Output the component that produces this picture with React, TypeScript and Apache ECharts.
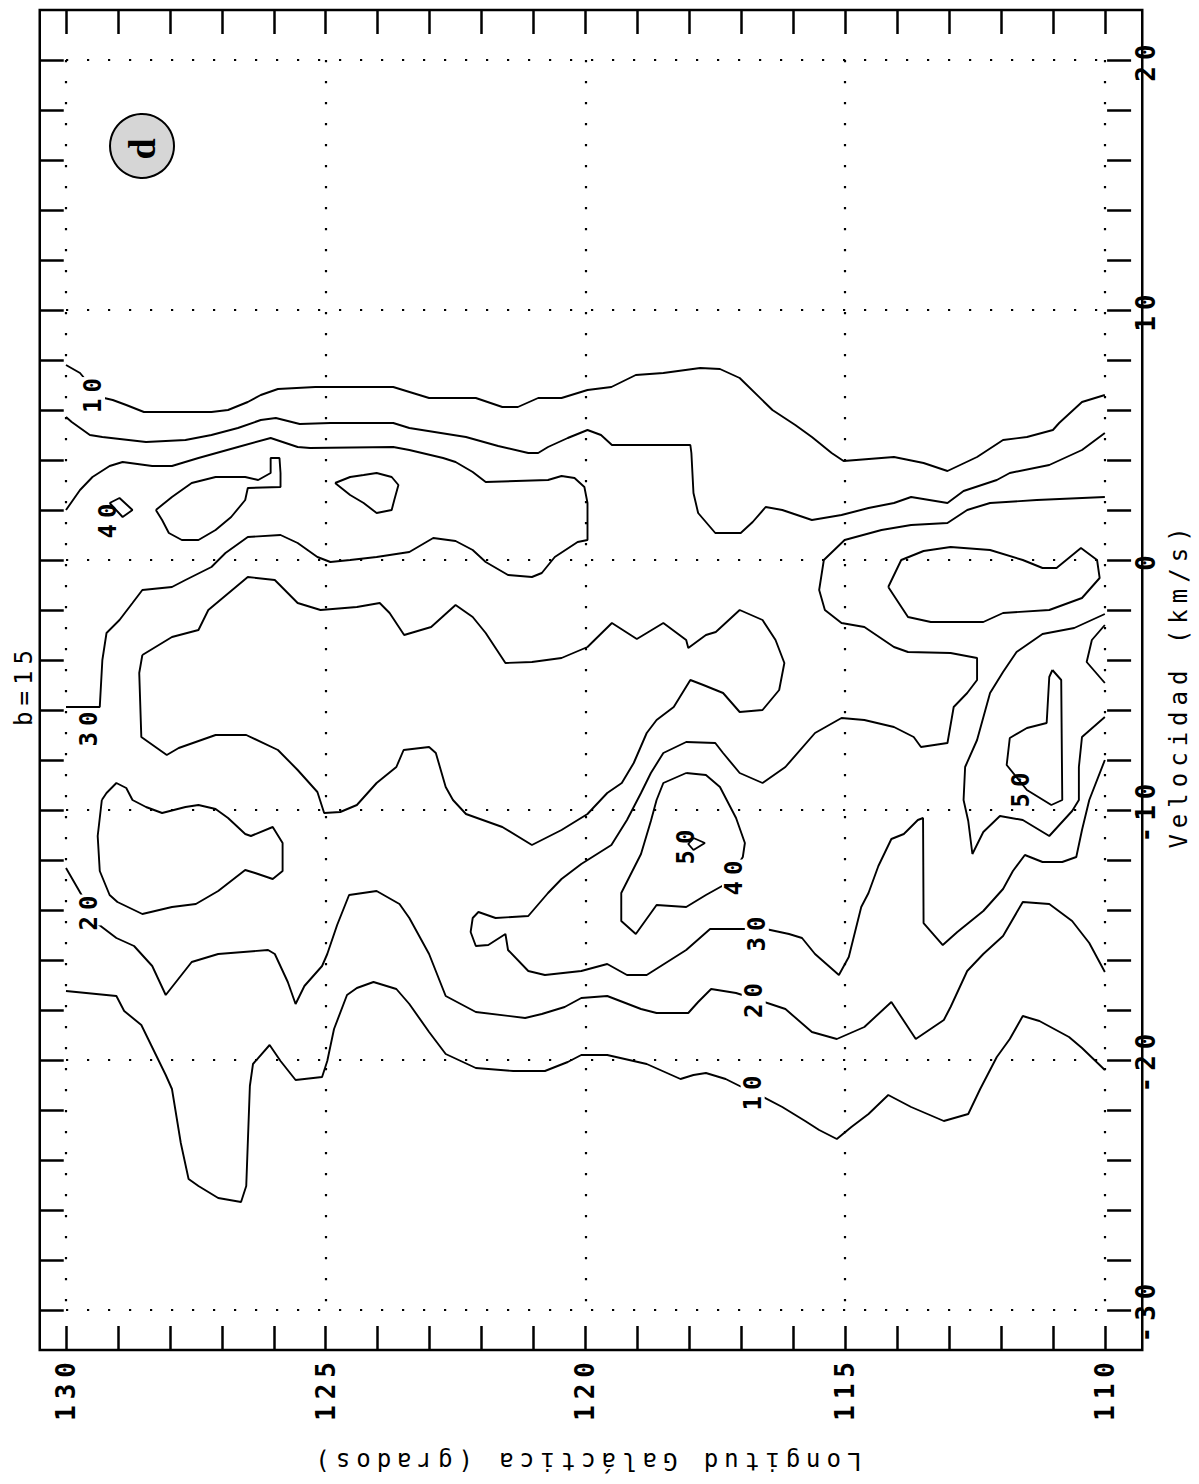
import React, { useEffect, useRef } from 'react';
import * as echarts from 'echarts';

// ---- axis labels ----
const LON_LABELS = [110, 115, 120, 125, 130];
const VEL_LABELS = [-30, -20, -10, 0, 10, 20];

// ---- contour lines: [longitude (deg), velocity (km/s)] ----
const contour10Upper = [[130,7.8],[129.73,7.48],[129.35,6.52],[129.1,6.4],[128.84,6.2],[128.5,5.92],[127.2,5.92],[126.88,6.0],[126.5,6.32],[126.25,6.6],[125.92,6.84],[125.2,6.92],[123.7,6.92],[123.01,6.48],[122.11,6.48],[121.6,6.12],[121.3,6.12],[120.91,6.48],[120.46,6.48],[119.96,6.8],[119.5,6.92],[119.03,7.4],[118.5,7.48],[117.79,7.68],[117.41,7.64],[117.03,7.28],[116.4,6.0],[115.96,5.4],[115.64,4.92],[115.26,4.28],[115.03,3.96],[114.06,4.12],[113.49,3.88],[113.03,3.56],[112.46,4.12],[111.96,4.8],[111.5,4.92],[111.0,5.2],[110.88,5.48],[110.44,6.32],[110,6.6]];
const contour20Upper = [[130,5.72],[129.89,5.52],[129.54,5.0],[129.3,4.92],[128.46,4.72],[127.7,4.8],[127.2,5.0],[126.69,5.28],[126.25,5.6],[125.96,5.68],[125.5,5.44],[124.91,5.48],[123.7,5.48],[123.39,5.28],[122.3,4.92],[121.68,4.56],[121.1,4.28],[120.91,4.28],[120.72,4.52],[120.34,4.88],[119.96,5.2],[119.7,5.0],[119.49,4.6],[117.98,4.6],[117.96,4.28],[117.92,2.68],[117.83,1.88],[117.5,1.08],[117.01,1.08],[116.78,1.52],[116.53,2.12],[116.21,2.0],[115.64,1.6],[115.07,1.8],[114.55,2.08],[114.06,2.28],[113.73,2.52],[113.03,2.28],[112.72,2.76],[112.08,3.2],[111.83,3.48],[111.07,3.8],[110.44,4.4],[110,5.08]];
const contour30Left = [[130,2.0],[129.73,2.8],[129.49,3.32],[129.16,3.76],[128.91,3.92],[128.34,3.76],[127.96,3.76],[127.45,4.08],[126.69,4.52],[126.06,4.88],[125.54,4.52],[125.3,4.48],[123.7,4.52],[123.39,4.4],[122.74,4.08],[122.5,3.92],[122.17,3.52],[121.92,3.12],[120.72,3.2],[120.46,3.36],[120.21,3.28],[120.02,2.92],[119.96,2.28],[119.96,0.8],[120.15,0.72],[120.59,0.12],[120.84,-0.52],[121.03,-0.68],[121.49,-0.6],[121.92,-0.08],[122.17,0.4],[122.5,0.76],[122.93,0.88],[123.39,0.32],[124.02,0.12],[124.53,0.0],[124.91,-0.08],[125.16,0.12],[125.54,0.68],[125.87,1.0],[126.5,0.92],[126.93,0.28],[127.2,-0.28],[127.7,-0.8],[127.96,-1.08],[128.53,-1.2],[128.72,-1.72],[128.97,-2.4],[129.22,-2.92],[129.3,-4.0],[129.35,-5.88],[130,-5.88]];
const contour40IslandA = [[129.16,2.28],[128.97,2.48],[128.72,2.0],[128.91,1.72],[129.16,2.28]];
const contour40IslandB = [[128.27,2.0],[127.96,2.52],[127.58,3.08],[127.12,3.32],[126.55,3.32],[126.3,3.2],[126.06,3.48],[126.06,4.08],[125.89,4.08],[125.87,3.48],[125.87,2.92],[126.5,2.88],[126.55,2.4],[126.82,1.72],[127.12,1.2],[127.45,0.8],[127.77,0.8],[128.02,1.08],[128.15,1.6],[128.27,2.0]];
const contour40IslandC = [[124.82,3.08],[124.53,3.32],[124.27,3.4],[124.02,3.48],[123.73,3.32],[123.6,3.0],[123.68,2.4],[123.73,2.0],[124.02,1.88],[124.27,2.28],[124.53,2.6],[124.82,3.08]];
const loopMiddle = [[128.53,-3.8],[127.96,-3.08],[127.45,-2.8],[127.26,-2.0],[126.5,-0.68],[125.98,-0.8],[125.54,-1.72],[125.1,-2.0],[124.4,-1.88],[123.96,-1.72],[123.77,-2.12],[123.49,-3.0],[122.97,-2.68],[122.5,-1.8],[122.17,-2.28],[121.92,-2.92],[121.54,-4.12],[121.03,-4.08],[120.46,-3.92],[119.96,-3.48],[119.49,-2.52],[119.01,-3.16],[118.5,-2.52],[118.06,-3.2],[118.02,-3.52],[117.68,-3.0],[117.49,-2.88],[117.03,-2.0],[116.59,-2.4],[116.34,-3.2],[116.17,-4.12],[116.27,-5.2],[116.59,-6.0],[117.03,-6.08],[117.35,-5.32],[117.73,-5.0],[117.98,-4.8],[118.3,-5.88],[118.63,-6.4],[118.82,-6.92],[119.07,-8.12],[119.3,-8.92],[119.58,-9.32],[119.96,-10.16],[120.46,-10.8],[121.03,-11.4],[121.6,-10.68],[122.3,-10.16],[122.55,-9.6],[122.69,-9.08],[122.88,-7.72],[123.01,-7.48],[123.5,-7.6],[123.64,-8.28],[124.02,-8.92],[124.4,-9.8],[124.72,-10.08],[125.03,-10.12],[125.16,-9.28],[125.54,-8.4],[125.92,-7.6],[126.53,-7.0],[127.12,-7.0],[127.83,-7.52],[128.06,-7.8],[128.55,-7.08],[128.59,-4.52],[128.53,-3.8]];
const loopPear = [[129.31,-9.6],[129.39,-11.04],[129.35,-12.44],[129.16,-13.4],[129.01,-13.68],[128.53,-14.16],[127.96,-13.88],[127.5,-13.76],[127.07,-13.24],[126.55,-12.4],[126.36,-12.52],[126.02,-12.76],[125.83,-12.44],[125.83,-11.32],[126.02,-10.68],[126.44,-11.04],[126.55,-10.96],[126.88,-10.32],[127.12,-9.96],[127.45,-9.8],[127.7,-9.88],[128.15,-10.12],[128.46,-9.88],[128.72,-9.6],[128.84,-9.12],[129.03,-8.92],[129.22,-9.32],[129.31,-9.6]];
const contour30Right = [[110,2.52],[111.31,2.4],[112.21,2.28],[112.65,2.0],[113.03,1.48],[113.73,1.4],[114.3,1.2],[115.01,0.8],[115.41,0.0],[115.5,-1.2],[115.39,-2.0],[115.07,-2.52],[114.63,-2.68],[114.06,-3.48],[113.79,-3.68],[112.97,-3.72],[112.46,-3.92],[112.46,-4.8],[112.65,-5.32],[112.91,-5.88],[113.03,-7.32],[113.54,-7.48],[113.68,-7.08],[114.06,-6.68],[114.63,-6.4],[115.07,-6.32],[115.58,-6.92],[116.15,-8.28],[116.59,-8.92],[117.03,-8.52],[117.35,-7.72],[117.5,-7.32],[118.06,-7.28],[118.5,-7.72],[118.74,-8.52],[118.93,-9.32],[119.2,-10.4],[119.5,-11.4],[120.08,-12.16],[120.46,-12.76],[120.72,-13.32],[121.1,-14.24],[121.73,-14.32],[122.06,-14.08],[122.17,-14.32],[122.21,-14.88],[122.11,-15.44],[121.87,-15.4],[121.54,-14.96],[121.49,-15.6],[121.1,-16.44],[120.78,-16.6],[120.08,-16.44],[119.58,-16.16],[119.2,-16.6],[118.82,-16.6],[118.06,-15.6],[117.6,-14.76],[116.53,-14.76],[116.08,-14.96],[115.83,-15.12],[115.58,-15.76],[115.12,-16.6],[114.93,-15.88],[114.69,-13.88],[114.55,-13.32],[114.36,-12.24],[114.11,-11.16],[113.87,-10.96],[113.6,-10.4],[113.5,-10.32],[113.49,-14.52],[113.12,-15.4],[112.84,-14.88],[112.34,-14.04],[111.96,-13.16],[111.77,-12.44],[111.54,-11.8],[111.2,-12.08],[110.82,-12.08],[110.55,-11.88],[110.44,-10.8],[110.3,-9.6],[110,-8.0]];
const contour40Center = [[118.06,-8.52],[117.68,-8.6],[117.41,-9.08],[117.1,-10.32],[116.93,-11.32],[116.97,-11.88],[117.3,-12.96],[117.68,-13.4],[118.06,-13.88],[118.63,-13.8],[119.03,-14.96],[119.31,-14.44],[119.31,-13.32],[118.93,-11.76],[118.74,-10.44],[118.63,-9.6],[118.5,-8.92],[118.06,-8.52]];
const contour50Center = [[117.92,-11.12],[117.7,-11.32],[117.92,-11.6],[118.02,-11.36],[117.92,-11.12]];
const loopZero = [[114.17,-1.08],[113.92,0.0],[113.49,0.36],[112.97,0.52],[112.21,0.4],[111.58,0.0],[111.2,-0.32],[110.93,-0.32],[110.46,0.48],[110.15,0.0],[110.1,-0.72],[110.44,-1.52],[111.07,-2.0],[111.96,-2.12],[112.34,-2.48],[113.35,-2.48],[113.79,-2.28],[114.17,-1.08]];
const contour40Right = [[110,-2.16],[110.59,-2.72],[111.2,-2.96],[111.7,-3.68],[111.96,-4.48],[112.21,-5.32],[112.46,-7.2],[112.69,-8.28],[112.72,-9.6],[112.63,-10.44],[112.55,-11.76],[112.34,-10.88],[112.02,-10.24],[111.58,-10.4],[111.07,-11.04],[110.63,-10.04],[110.5,-9.6],[110.5,-8.28],[110.44,-7.08],[110,-6.28]];
const contourEdge = [[110,-2.6],[110.25,-3.2],[110.35,-4.08],[110,-4.92]];
const contour50Right = [[111.01,-4.4],[110.84,-4.8],[110.82,-9.6],[111.03,-9.8],[111.5,-9.2],[111.89,-8.2],[111.83,-7.12],[111.5,-6.72],[111.12,-6.52],[111.07,-4.68],[111.01,-4.4]];
const contour20Lower = [[130,-12.32],[129.7,-13.4],[129.41,-14.52],[129.03,-15.12],[128.69,-15.44],[128.34,-16.24],[128.08,-17.4],[127.58,-16.08],[127.07,-15.76],[126.11,-15.6],[125.98,-15.76],[125.73,-16.88],[125.58,-17.76],[125.41,-17.04],[125.07,-16.24],[124.97,-15.76],[124.78,-14.6],[124.55,-13.4],[124.02,-13.24],[123.58,-13.76],[123.39,-14.32],[123.01,-15.76],[122.69,-17.44],[122.11,-18.08],[121.16,-18.32],[120.84,-18.16],[120.4,-17.88],[120.08,-17.52],[119.58,-17.44],[118.93,-17.96],[118.63,-18.12],[118.02,-18.12],[117.83,-17.68],[117.58,-17.16],[117.1,-17.32],[116.44,-17.76],[116.15,-17.96],[115.64,-18.88],[115.16,-19.16],[114.63,-18.68],[114.11,-17.68],[113.64,-19.16],[113.1,-18.4],[112.97,-17.88],[112.65,-16.44],[112.34,-15.76],[111.96,-15.04],[111.58,-13.68],[111.07,-13.76],[110.63,-14.44],[110.3,-15.32],[110,-16.48]];
const contour10Lower = [[130,-17.24],[129.03,-17.44],[128.88,-18.04],[128.55,-18.6],[128.08,-20.6],[127.96,-21.16],[127.79,-23.32],[127.64,-24.76],[127.45,-25.04],[127.07,-25.52],[126.63,-25.68],[126.53,-25.04],[126.46,-21.04],[126.4,-20.16],[126.08,-19.4],[125.87,-20.04],[125.58,-20.8],[125.07,-20.68],[124.97,-20.04],[124.84,-18.76],[124.59,-17.4],[124.4,-17.12],[124.08,-16.88],[123.64,-17.16],[123.39,-17.76],[123.01,-18.88],[122.69,-19.76],[122.11,-20.32],[121.39,-20.44],[120.78,-20.44],[120.34,-20.08],[120.08,-19.8],[119.58,-19.8],[118.82,-20.16],[118.17,-20.76],[117.92,-20.6],[117.68,-20.52],[117.3,-20.76],[117.03,-21.04],[116.65,-21.4],[116.21,-21.88],[115.77,-22.44],[115.5,-22.8],[115.16,-23.16],[114.88,-22.68],[114.55,-22.16],[114.17,-21.4],[113.73,-21.88],[113.1,-22.44],[112.63,-22.16],[112.4,-21.16],[112.08,-19.88],[111.83,-19.16],[111.58,-18.24],[111.26,-18.44],[110.69,-19.08],[110.44,-19.52],[110,-20.4]];

const CONTOURS = [contour10Upper, contour20Upper, contour30Left, contour40IslandA, contour40IslandB, contour40IslandC, loopMiddle, loopPear, contour30Right, contour40Center, contour50Center, loopZero, contour40Right, contourEdge, contour50Right, contour20Lower, contour10Lower];

// ---- contour level labels ----
const LABEL_TEXT = ['10', '40', '30', '20', '50', '40', '30', '20', '10', '50'];
const LABEL_LON = [129.48, 129.2, 129.56, 129.56, 118.06, 117.14, 116.7, 116.76, 116.78, 111.62];
const LABEL_VEL = [6.7, 1.68, -6.64, -14.0, -11.36, -12.6, -14.84, -17.5, -21.2, -9.08];
const LABEL_MASK = [true, false, true, true, false, true, true, true, true, false];

const FONT = '"DejaVu Sans Mono", monospace';

export default function App() {
  const ref = useRef<HTMLDivElement>(null);
  useEffect(() => {
    if (!ref.current) return;
    const chart = echarts.init(ref.current, null, { renderer: 'svg' });
    const tickStyle = { color: '#000', width: 2.5 };
    const dotted = { color: '#000', width: 2.2, type: [2.2, 18.8] as any };
    const lineSeries = CONTOURS.map((d) => ({
      type: 'line',
      xAxisIndex: 0,
      yAxisIndex: 0,
      data: d,
      symbol: 'none',
      showSymbol: false,
      silent: true,
      lineStyle: { color: '#000', width: 1.9 },
      z: 3,
    }));
    const labelSeries = {
      type: 'scatter',
      xAxisIndex: 0,
      yAxisIndex: 0,
      symbolSize: 1,
      silent: true,
      itemStyle: { color: '#ffffff', opacity: 1 },
      z: 6,
      data: LABEL_TEXT.map((t, i) => ({
        value: [LABEL_LON[i], LABEL_VEL[i]],
        name: t,
        label: {
          show: true,
          position: 'inside',
          rotate: 90,
          formatter: t,
          fontSize: 24,
          fontWeight: 'bold',
          fontFamily: FONT,
          color: '#000000',
          opacity: 1,
          textBorderWidth: 0,
          backgroundColor: LABEL_MASK[i] ? '#fff' : 'transparent',
          padding: [0, 1],
        },
      })),
    };
    const option: any = {
      animation: false,
      backgroundColor: '#fff',
      grid: [
        { left: 66, top: 60, width: 1050, height: 1250, show: false },
        { left: 39.75, top: 10, width: 1102.5, height: 1340, show: true, borderColor: '#000', borderWidth: 2.5, backgroundColor: 'transparent' },
      ],
      xAxis: [
        {
          type: 'value', gridIndex: 0, min: 110, max: 130, interval: 1, inverse: true,
          position: 'bottom', offset: 40,
          axisLine: { show: false, onZero: false },
          axisTick: { show: true, inside: true, length: 24, lineStyle: tickStyle },
          axisLabel: {
            show: true, rotate: 90, margin: 6, color: '#000', fontSize: 26, fontWeight: 'bold', fontFamily: FONT,
            formatter: (v: number) => (LON_LABELS.includes(Math.round(v)) && Math.abs(v - Math.round(v)) < 1e-6 ? String(Math.round(v)) : ''),
          },
          splitLine: { show: false },
          name: 'Longitud Galáctica (grados)', nameLocation: 'middle', nameRotate: 180, nameGap: 99,
          nameTextStyle: { fontSize: 24, fontFamily: FONT, color: '#000' },
        },
        {
          type: 'value', gridIndex: 0, min: 110, max: 130, interval: 1, inverse: true,
          position: 'top', offset: 50,
          axisLine: { show: false, onZero: false },
          axisTick: { show: true, inside: true, length: 24, lineStyle: tickStyle },
          axisLabel: { show: false },
          splitLine: { show: false },
        },
        {
          type: 'value', gridIndex: 0, min: 110, max: 130, interval: 5, inverse: true,
          position: 'bottom',
          axisLine: { show: false, onZero: false },
          axisTick: { show: false },
          axisLabel: { show: false },
          splitLine: { show: true, lineStyle: dotted },
        },
        { type: 'value', gridIndex: 1, min: 0, max: 1, show: false, axisLine: { onZero: false } },
      ],
      yAxis: [
        {
          type: 'value', gridIndex: 0, min: -30, max: 20, interval: 2,
          position: 'right', offset: 26.25,
          axisLine: { show: false, onZero: false },
          axisTick: { show: true, inside: true, length: 24, lineStyle: tickStyle },
          axisLabel: {
            show: true, rotate: 90, margin: 2, color: '#000', fontSize: 26, fontWeight: 'bold', fontFamily: FONT,
            formatter: (v: number) => (VEL_LABELS.includes(Math.round(v)) && Math.abs(v - Math.round(v)) < 1e-6 ? String(Math.round(v)) : ''),
          },
          splitLine: { show: false },
          name: 'Velocidad (km/s)', nameLocation: 'middle', nameRotate: 90, nameGap: 15,
          nameTextStyle: { fontSize: 24, fontFamily: FONT, color: '#000' },
        },
        {
          type: 'value', gridIndex: 0, min: -30, max: 20, interval: 2,
          position: 'left', offset: 26.25,
          axisLine: { show: false, onZero: false },
          axisTick: { show: true, inside: true, length: 24, lineStyle: tickStyle },
          axisLabel: { show: false },
          splitLine: { show: false },
          name: 'b=15', nameLocation: 'middle', nameRotate: 90, nameGap: 4,
          nameTextStyle: { fontSize: 24, fontFamily: FONT, color: '#000' },
        },
        {
          type: 'value', gridIndex: 0, min: -30, max: 20, interval: 10,
          position: 'left',
          axisLine: { show: false, onZero: false },
          axisTick: { show: false },
          axisLabel: { show: false },
          splitLine: { show: true, lineStyle: dotted },
        },
        { type: 'value', gridIndex: 1, min: 0, max: 1, show: false, axisLine: { onZero: false } },
      ],
      graphic: [
        { type: 'circle', shape: { cx: 142, cy: 146, r: 32 }, style: { fill: '#d6d6d6', stroke: '#000', lineWidth: 2 }, z: 10 },
        {
          type: 'text', x: 142, y: 146, rotation: Math.PI / 2, z: 11,
          style: { text: 'd', fontSize: 38, fontWeight: 'bold', fontFamily: '"Liberation Serif", serif', fill: '#000', align: 'center', verticalAlign: 'middle' },
        },
      ],
      series: [...lineSeries, labelSeries],
    };
    chart.setOption(option);
    return () => chart.dispose();
  }, []);
  return (
    <>
      <style>{'#chartbox svg text{letter-spacing:6px;}'}</style>
      <div id="chartbox" ref={ref} style={{ position: 'absolute', left: 0, top: 0, width: 1199, height: 1484 }} />
    </>
  );
}
